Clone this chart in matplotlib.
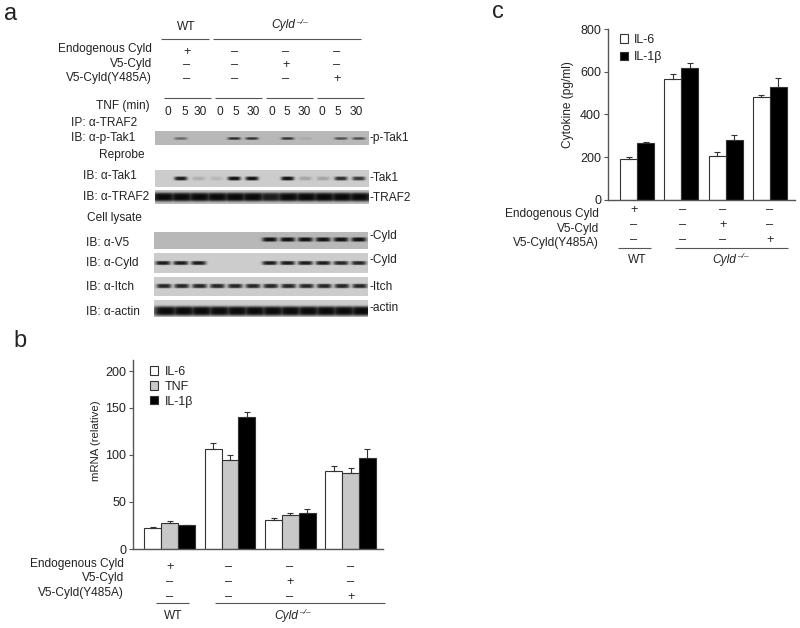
import numpy as np
import matplotlib
matplotlib.use("Agg")
import matplotlib.pyplot as plt
from matplotlib.patches import Patch

plt.rcParams['font.family'] = ['Liberation Sans', 'DejaVu Sans']
INK = '#222222'
LINE = '#555555'
W, H = 800, 628

# ---- data: panel b ----
groups = ['WT', 'Cyld', 'Cyld V5', 'Cyld Y485A']
b_il6 = [22, 106, 31, 82.5]
b_il6_err = [1.5, 7, 2, 6]
b_tnf = [27.5, 95, 36, 81]
b_tnf_err = [2.5, 5, 2.3, 5]
b_il1 = [25, 140, 38, 97]
b_il1_err = [0, 5.5, 5, 9]
b_tick_pos = [0, 50, 100, 150, 189]   # the reference's top tick is set closer than the others
b_tick_lab = ['0', '50', '100', '150', '200']

# ---- data: panel c ----
c_il6 = [190, 565, 204, 484]
c_il6_err = [10, 26, 20, 8]
c_il1 = [265, 616, 279, 529]
c_il1_err = [6, 24, 23, 41]
c_ticks = [0, 200, 400, 600, 800]

# ---- data: panel a blots (band strength per lane, 12 lanes) ----
lanes_all = ['0', '5', '30'] * 4
blot_ptak = [0, .45, 0, 0, .8, .75, 0, .75, .08, 0, .6, .6]
blot_tak = [0, .9, .15, .1, .95, .95, 0, .95, .2, .2, .8, .75]
blot_traf = [1, 1, 1, 1, 1, 1, .9, 1, 1, 1, 1, 1]
blot_v5 = [0, 0, 0, 0, 0, 0, .95, .95, .95, .95, .95, .95]
blot_cyld = [.9, .9, .9, 0, 0, 0, .9, .9, .9, .9, .85, .85]
blot_itch = [.85, .85, .85, .85, .85, .85, .85, .85, .85, .85, .85, .85]
blot_actin = [1, 1, 1, 1, 1, 1, 1, 1, 1, 1, 1, 1]

cond_labels = ['Endogenous Cyld', 'V5-Cyld', 'V5-Cyld(Y485A)']
cond_marks = [['+', '–', '–', '–'],
              ['–', '–', '+', '–'],
              ['–', '–', '–', '+']]

BASE = 8.6

fig = plt.figure(figsize=(W / 100, H / 100), dpi=100, facecolor='white')
ov = fig.add_axes([0, 0, 1, 1], zorder=5)
ov.set_xlim(0, W)
ov.set_ylim(H, 0)
ov.axis('off')
ov.patch.set_alpha(0)


def txt(x, y, s, ha='left', size=BASE, **kw):
    ov.text(x, y, s, ha=ha, va='center', fontsize=size, color=INK, **kw)


def hline(x0, x1, y):
    ov.plot([x0, x1], [y, y], color=LINE, lw=0.8, solid_capstyle='butt')


def cyld_title(x, y, size=BASE):
    txt(x, y, 'Cyld', ha='right', style='italic', size=size)
    txt(x + 1, y - 3, '–/–', ha='left', style='italic', size=size - 2.6)


def conditions(xs, ys_mark, x_lab, ys_lab, size=BASE):
    for row, lab in enumerate(cond_labels):
        txt(x_lab, ys_lab[row], lab, ha='right', size=size)
        for col, xm in enumerate(xs):
            txt(xm, ys_mark[row], cond_marks[row][col], ha='center', size=size + 0.6)


# ---- panel a ----
txt(4, 14, 'a', size=17)
txt(186, 27, 'WT', ha='center')
cyld_title(295, 25)
hline(161, 209, 39)
hline(213, 361, 39)
conditions([187, 235, 286, 337], [52, 65, 79], 152, [49, 64, 78])
for x0, x1 in [(164, 211), (215, 262), (266, 313), (317, 364)]:
    hline(x0, x1, 98)
txt(150, 106, 'TNF (min)', ha='right')
lane_text_x = [168, 185, 200, 220, 236, 253, 272, 287, 304, 322, 338, 356]
for xl, s in zip(lane_text_x, lanes_all):
    txt(xl, 112, s, ha='center')

left_labels = [(71, 123, 'IP: α-TRAF2'), (71, 138, 'IB: α-p-Tak1'), (99, 155, 'Reprobe'),
               (83, 176, 'IB: α-Tak1'), (83, 197, 'IB: α-TRAF2'), (87, 218, 'Cell lysate'),
               (86, 243, 'IB: α-V5'), (86, 263, 'IB: α-Cyld'), (86, 287, 'IB: α-Itch'),
               (86, 312, 'IB: α-actin')]
for x, y, s in left_labels:
    txt(x, y, s)
right_labels = [(369, 138, '-p-Tak1'), (369, 178, '-Tak1'), (369, 198, '-TRAF2'),
                (369, 236, '-Cyld'), (369, 260, '-Cyld'), (369, 287, '-Itch'), (369, 308, '-actin')]
for x, y, s in right_labels:
    txt(x, y, s)

lane_x = 163 + 17.8 * np.arange(12)


def blot(vals, x0, x1, y0, y1, yb, bg, wx, wy, shift=0.0):
    xx, yy = np.meshgrid(np.arange(x0, x1) + .5, np.arange(y0, y1) + .5)
    img = np.zeros_like(xx, dtype=float)
    for lx, v in zip(lane_x, vals):
        img = np.maximum(img, v * np.exp(-((xx - lx - shift) / wx) ** 4 - ((yy - yb) / wy) ** 4))
    g = bg * (1 - img) + 0.04 * img
    ov.imshow(g, extent=(x0, x1, y1, y0), cmap='gray', vmin=0, vmax=1,
              interpolation='bilinear', aspect='auto', zorder=1)


blot(blot_ptak, 155, 369, 131, 145, 138.5, .72, 6.5, 1.3)
blot(blot_tak, 155, 369, 170, 187, 178.5, .80, 6.5, 2.0)
blot(blot_traf, 155, 369, 190, 204, 197, .74, 13, 4.4, 1)
blot(blot_v5, 154, 368, 232, 249, 239.5, .72, 7.5, 2.2)
blot(blot_cyld, 154, 368, 253, 273, 263, .80, 7.5, 2.0)
blot(blot_itch, 154, 368, 277, 296, 286, .80, 7.5, 2.2, 1)
blot(blot_actin, 154, 368, 300, 317, 311, .80, 13, 4.8, 3)
ov.set_xlim(0, W)
ov.set_ylim(H, 0)


def make_axes(left, right, top, bottom):
    ax = fig.add_axes([left / W, 1 - bottom / H, (right - left) / W, (bottom - top) / H])
    for s in ['top', 'right']:
        ax.spines[s].set_visible(False)
    for s in ['left', 'bottom']:
        ax.spines[s].set_color(LINE)
        ax.spines[s].set_linewidth(1.0)
    ax.set_xticks([])
    ax.tick_params(axis='y', length=3, width=0.8, color=LINE, labelsize=9,
                   labelcolor=INK, pad=2)
    return ax


def bars(ax, series, width, colors):
    n = len(series)
    x = np.arange(len(groups))
    for i, ((v, e), c) in enumerate(zip(series, colors)):
        ax.bar(x + (i - (n - 1) / 2) * width, v, width, color=c, edgecolor='#333333', linewidth=0.8,
               yerr=[np.zeros(len(e)), e],
               error_kw=dict(ecolor='#333333', elinewidth=0.8, capsize=2.2, capthick=0.8))


# ---- panel b ----
txt(13, 341, 'b', size=17)
axb = make_axes(133, 383, 360, 549)
axb.set_xlim(-0.608, 3.536)
axb.set_ylim(0, 201)
axb.set_yticks(b_tick_pos)
axb.set_yticklabels(b_tick_lab)
bars(axb, [(b_il6, b_il6_err), (b_tnf, b_tnf_err), (b_il1, b_il1_err)], 0.279,
     ['white', '#c8c8c8', 'black'])
txt(96, 441, 'mRNA (relative)', ha='center', rotation=90, size=8.2)
conditions([170, 229, 290, 351], [567, 582, 597], 124, [564, 578.5, 593])
hline(156, 189, 603)
hline(215, 385, 603)
txt(173, 616, 'WT', ha='center')
cyld_title(298, 616)

# ---- panel c ----
txt(492, 12, 'c', size=17)
axc = make_axes(608, 795, 29, 200)
axc.set_xlim(-0.667, 3.576)
axc.set_ylim(0, 797)
axc.set_yticks(c_ticks)
bars(axc, [(c_il6, c_il6_err), (c_il1, c_il1_err)], 0.386, ['white', 'black'])
txt(568, 105, 'Cytokine (pg/ml)', ha='center', rotation=90)
conditions([634, 683, 723, 770], [210, 225, 240], 599, [214, 229, 243])
hline(618, 651, 248)
hline(675, 788, 248)
txt(637, 260, 'WT', ha='center')
cyld_title(736, 260)


def legend(ax, labels, colors, x, y, spacing):
    handles = [Patch(facecolor=c, edgecolor='#333333', linewidth=0.8) for c in colors]
    leg = ax.legend(handles, labels, loc='upper left', bbox_to_anchor=(x, y),
                    bbox_transform=ov.transData, frameon=False, fontsize=9,
                    handlelength=0.65, handleheight=0.65, handletextpad=0.5,
                    labelspacing=spacing, borderpad=0, borderaxespad=0)
    for t in leg.get_texts():
        t.set_color(INK)


legend(axb, ['IL-6', 'TNF', 'IL-1β'], ['white', '#c8c8c8', 'black'], 150, 366, 0.22)
legend(axc, ['IL-6', 'IL-1β'], ['white', 'black'], 619.5, 34, 0.42)

fig.savefig('out.png', dpi=100, facecolor='white')
